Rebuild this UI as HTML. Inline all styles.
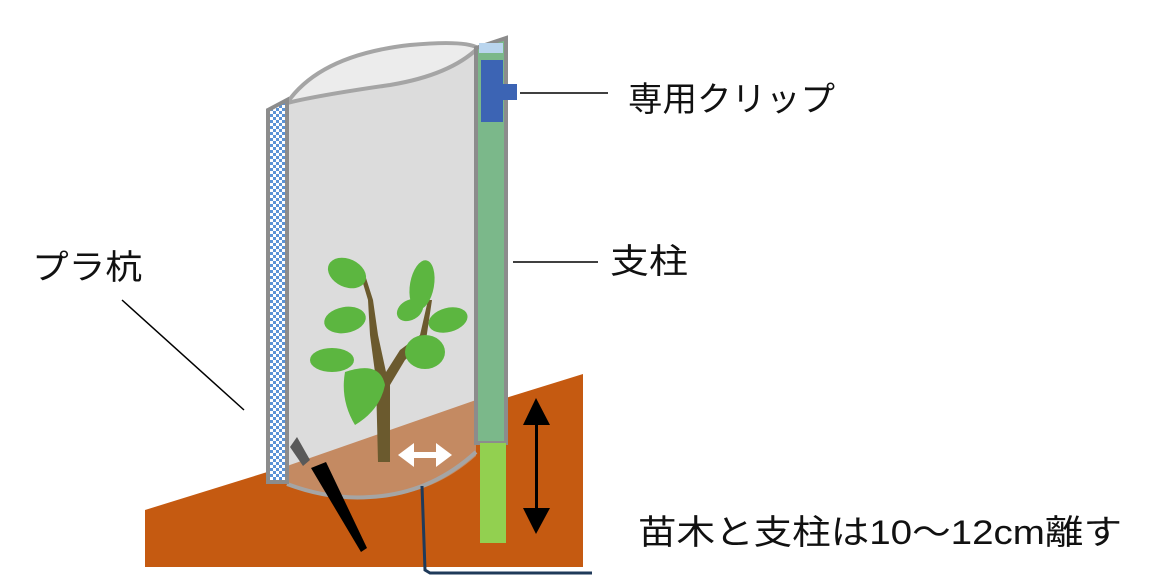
<!DOCTYPE html>
<html><head><meta charset="utf-8"><style>
html,body{margin:0;padding:0;background:#fff;}
svg{display:block;}
text{font-family:"Liberation Sans","Noto Sans CJK JP",sans-serif;fill:#111;}
</style></head><body>
<svg width="1156" height="580" viewBox="0 0 1156 580" xmlns="http://www.w3.org/2000/svg">
<defs>
<pattern id="chk" width="6" height="6" patternUnits="userSpaceOnUse">
<rect width="6" height="6" fill="#fff"/>
<rect width="3" height="3" fill="#5b93d6"/><rect x="3" y="3" width="3" height="3" fill="#5b93d6"/>
</pattern>
</defs>
<!-- ground -->
<polygon points="145,510 583,374 583,567 145,567" fill="#c55a11"/>
<!-- bag body -->
<path d="M287,103 L476,50 L476,455 Q420,500 360,497 Q310,494 287,484 Z" fill="#dcdcdc"/>
<!-- soil inside bag -->
<path d="M287,466 L476,400 L476,456 Q430,497 370,497 Q310,495 287,484 Z" fill="#c48a62"/>
<path d="M287,484 Q330,500 370,497 Q430,494 476,452" fill="none" stroke="#a5a5a5" stroke-width="4"/>
<!-- bag top -->
<path d="M287,103 Q320,55 410,45 Q465,40 478,48 Q450,75 390,85 Q320,95 287,103 Z" fill="#ececec" stroke="#a5a5a5" stroke-width="4"/>
<!-- plant -->
<g fill="#5cb640">
<path d="M378,462 L376,380 L370,335 L368,300 L362,280 L366,278 L373,300 L378,335 L386,372 L400,350 L420,335 L428,300 L432,300 L426,340 L405,360 L390,385 L390,462 Z" fill="#6b5a2e"/>
<ellipse cx="347" cy="273" rx="20" ry="14" transform="rotate(25 347 273)"/>
<ellipse cx="345" cy="320" rx="21" ry="13" transform="rotate(-10 345 320)"/>
<ellipse cx="332" cy="360" rx="22" ry="12"/>
<path d="M345,372 Q380,360 385,385 Q380,410 355,425 Q340,400 345,372 Z"/>
<ellipse cx="422" cy="285" rx="12" ry="25" transform="rotate(10 422 285)"/>
<ellipse cx="410" cy="310" rx="14" ry="10" transform="rotate(-30 410 310)"/>
<ellipse cx="448" cy="320" rx="20" ry="12" transform="rotate(-15 448 320)"/>
<ellipse cx="425" cy="352" rx="20" ry="17"/>
</g>
<!-- left pole -->
<polygon points="268,110 287,100 287,482 268,482" fill="url(#chk)" stroke="#8c8c8c" stroke-width="4"/>
<!-- right pole -->
<polygon points="476,48 506,38 506,443 476,443" fill="#7bb88a" stroke="#8c8c8c" stroke-width="4"/>
<rect x="479" y="43" width="24" height="10" fill="#b9d5ee"/>
<rect x="480" y="443" width="26" height="100" fill="#92d050"/>
<!-- clip -->
<rect x="481" y="60" width="22" height="62" fill="#3c64b4"/>
<rect x="500" y="84" width="17" height="16" fill="#3c64b4"/>
<!-- stakes -->
<polygon points="290,447 297,437 310,460 303,466" fill="#595959"/>
<polygon points="311,468 326,462 367,548 361,552" fill="#000"/>
<!-- dark line -->
<polyline points="422,486 425,570 430,573 592,573" fill="none" stroke="#1f3a5a" stroke-width="3"/>
<!-- white arrow -->
<g fill="#fff">
<rect x="410" y="452" width="32" height="6"/>
<polygon points="398,455 414,443 414,467"/>
<polygon points="452,455 436,443 436,467"/>
</g>
<!-- vertical arrow -->
<rect x="535" y="415" width="3" height="105" fill="#000"/>
<polygon points="536,398 523,425 550,425" fill="#000"/>
<polygon points="536,534 523,508 550,508" fill="#000"/>
<!-- leader lines -->
<line x1="520" y1="93" x2="608" y2="93" stroke="#000" stroke-width="1.5"/>
<line x1="513" y1="262" x2="598" y2="262" stroke="#000" stroke-width="1.5"/>
<line x1="122" y1="300" x2="244" y2="410" stroke="#000" stroke-width="1.5"/>
<!-- labels -->
<text x="628" y="111" font-size="34" textLength="207" lengthAdjust="spacingAndGlyphs">専用クリップ</text>
<text x="610" y="273" font-size="34" textLength="78" lengthAdjust="spacingAndGlyphs">支柱</text>
<text x="32" y="279" font-size="34" textLength="110" lengthAdjust="spacingAndGlyphs">プラ杭</text>
<text x="638" y="544" font-size="34" textLength="484" lengthAdjust="spacingAndGlyphs">苗木と支柱は10～12cm離す</text>
</svg>
</body></html>
